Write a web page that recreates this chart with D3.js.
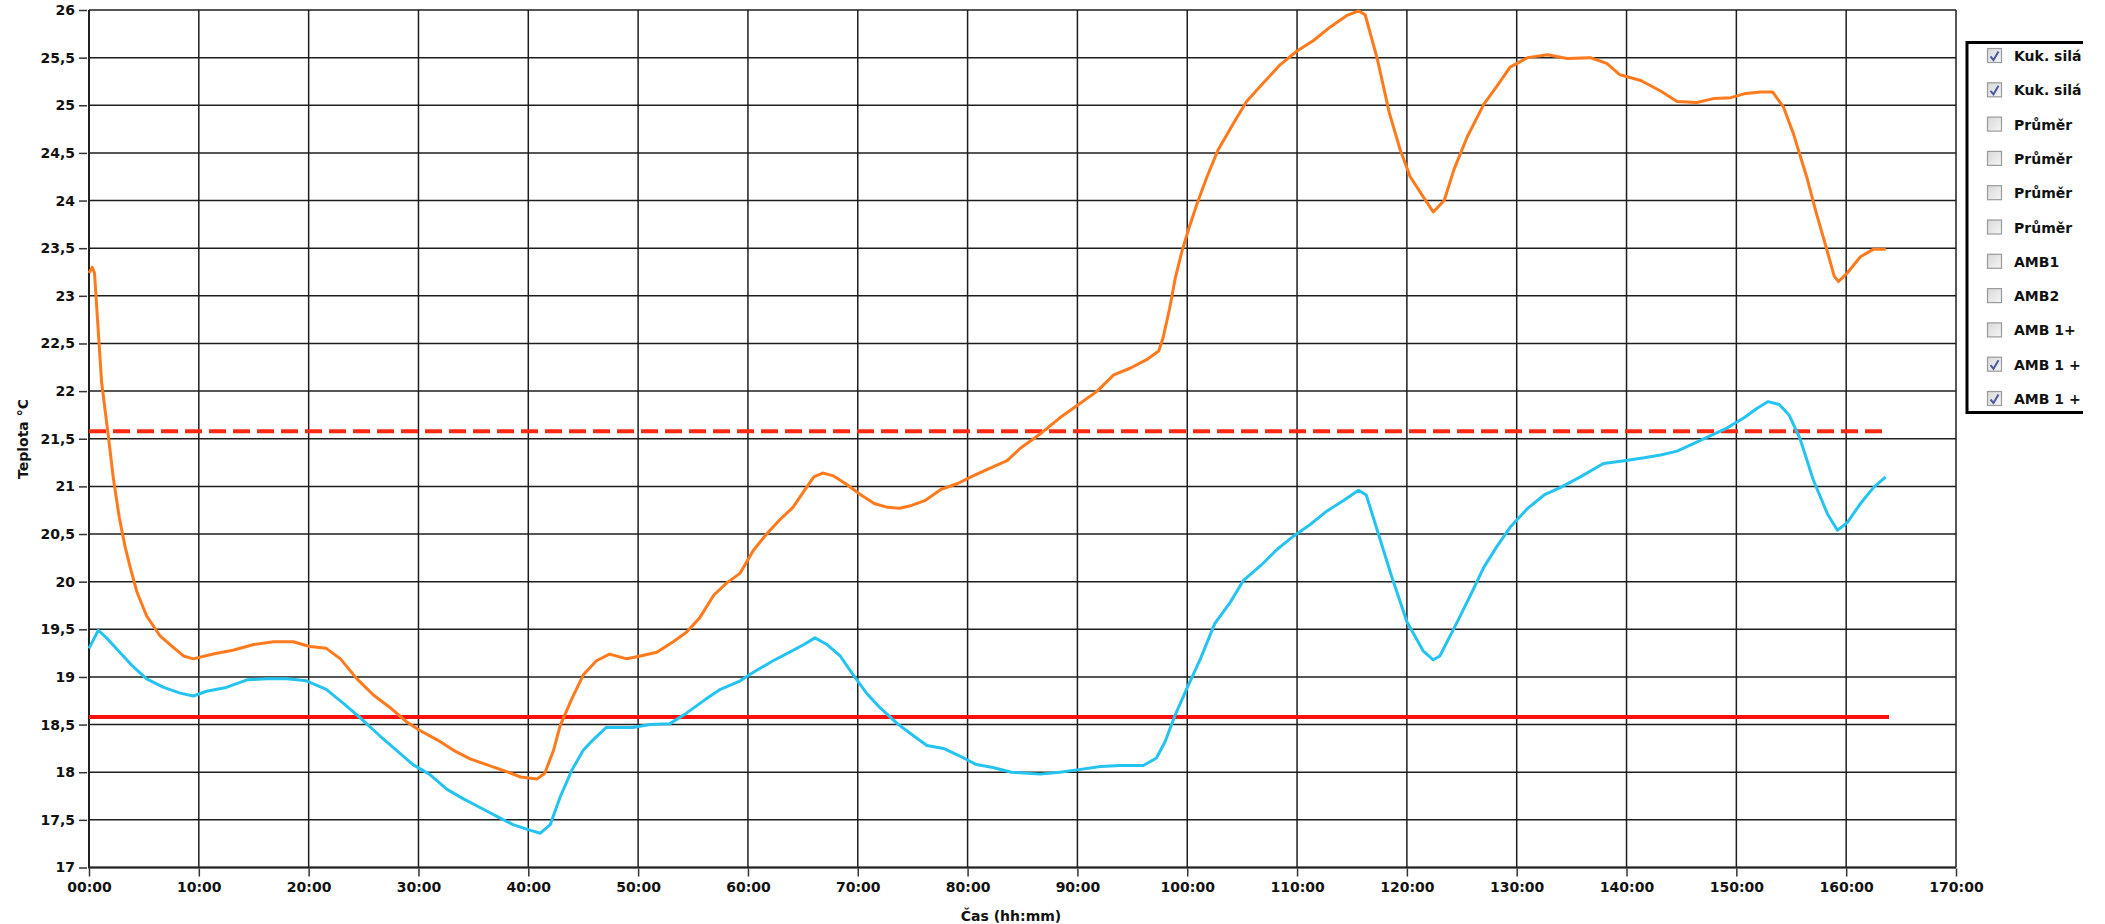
<!DOCTYPE html>
<html>
<head>
<meta charset="utf-8">
<script src="https://cdn.jsdelivr.net/npm/d3@7"></script>
<style>
  html, body { margin: 0; padding: 0; background: #fff; overflow: hidden; }
  svg { display: block; }
  text { font-family: "DejaVu Sans", Verdana, sans-serif; font-weight: bold; fill: #111; }
</style>
</head>
<body>
<script>
// ---------- data ----------
const orangeHours = [0.0,0.3,0.5,1.15,1.76,2.2,2.76,3.28,3.73,4.34,5.25,6.47,7.38,8.6,9.5,11.3,13.1,15.0,16.8,18.6,20.1,21.6,22.9,24.4,25.9,27.4,28.9,30.1,31.7,33.2,34.7,36.2,37.7,39.3,40.8,41.5,42.3,42.9,43.96,45.0,46.2,47.4,48.97,50.2,51.7,53.2,54.4,55.6,56.9,58.1,59.3,60.5,61.7,62.9,64.1,65.1,66.0,66.8,67.8,69.0,70.3,71.5,72.7,73.8,74.9,76.1,77.6,79.1,80.5,82.0,83.6,84.8,86.6,88.4,90.1,91.8,93.3,94.8,96.3,97.4,97.8,98.4,98.9,99.5,100.1,100.9,101.8,102.8,104.2,105.4,106.9,108.5,110.0,111.5,113.0,114.5,115.6,116.2,117.3,118.4,119.4,120.3,121.6,122.4,123.4,124.3,125.5,127.0,128.2,129.4,131.0,132.8,134.6,136.7,138.2,139.4,141.3,143.1,144.6,146.4,147.9,149.5,150.7,152.2,153.3,154.3,155.2,156.4,157.3,158.3,158.9,159.3,160.1,161.3,162.5,163.6];
const orangeTemps = [23.24,23.30,23.24,22.09,21.53,21.10,20.67,20.37,20.16,19.90,19.64,19.43,19.34,19.22,19.19,19.24,19.28,19.34,19.37,19.37,19.32,19.30,19.19,18.98,18.81,18.68,18.53,18.44,18.34,18.23,18.14,18.08,18.02,17.95,17.93,17.99,18.23,18.49,18.77,19.02,19.17,19.24,19.19,19.22,19.26,19.37,19.47,19.62,19.86,19.99,20.09,20.33,20.50,20.65,20.78,20.95,21.10,21.14,21.11,21.02,20.91,20.82,20.78,20.77,20.80,20.85,20.97,21.03,21.11,21.19,21.27,21.40,21.55,21.72,21.86,22.00,22.17,22.24,22.33,22.42,22.56,22.87,23.18,23.46,23.69,23.97,24.25,24.53,24.81,25.04,25.23,25.43,25.57,25.68,25.82,25.94,25.99,25.95,25.49,24.92,24.53,24.25,24.02,23.88,24.00,24.33,24.67,25.01,25.20,25.40,25.50,25.53,25.49,25.50,25.44,25.32,25.26,25.15,25.04,25.03,25.07,25.08,25.12,25.14,25.14,24.98,24.70,24.25,23.86,23.46,23.21,23.15,23.24,23.41,23.49,23.49];

const cyanHours = [0.0,0.85,1.6,2.8,4.0,5.25,6.8,8.3,9.5,10.7,12.5,14.4,16.2,18.0,19.8,21.6,23.2,24.7,26.5,28.0,29.5,31.1,32.6,34.1,35.6,37.1,38.6,40.2,41.1,42.0,42.9,43.96,45.0,45.9,47.1,48.4,49.5,51.1,52.9,54.4,56.2,57.5,59.3,60.5,62.3,63.8,65.1,66.1,67.2,68.4,69.6,70.8,72.0,73.6,75.1,76.3,77.8,79.3,80.8,82.3,84.0,86.6,88.4,90.3,92.1,93.9,96.0,97.2,97.98,98.9,99.97,101.2,102.5,103.9,105.1,106.7,108.2,109.7,111.2,112.7,114.2,115.6,116.3,117.6,118.6,120.0,121.5,122.4,123.0,124.6,125.8,127.0,128.2,129.4,131.0,132.5,134.0,135.8,137.9,139.8,141.6,143.1,144.6,146.1,147.6,149.1,150.7,151.9,152.9,153.9,154.8,155.8,157.0,158.3,159.2,160.1,161.3,162.5,163.6];
const cyanTemps = [19.30,19.49,19.41,19.26,19.11,18.98,18.89,18.83,18.80,18.85,18.89,18.97,18.98,18.98,18.96,18.87,18.72,18.57,18.38,18.23,18.08,17.97,17.82,17.72,17.63,17.54,17.45,17.39,17.36,17.45,17.74,18.02,18.23,18.34,18.47,18.47,18.47,18.50,18.51,18.62,18.77,18.87,18.96,19.05,19.17,19.26,19.34,19.41,19.34,19.22,19.02,18.83,18.68,18.51,18.38,18.28,18.25,18.17,18.08,18.05,18.00,17.98,18.00,18.03,18.06,18.07,18.07,18.15,18.32,18.60,18.88,19.19,19.56,19.78,20.01,20.17,20.34,20.48,20.60,20.74,20.85,20.96,20.91,20.43,20.06,19.58,19.27,19.18,19.22,19.58,19.86,20.15,20.37,20.57,20.77,20.91,20.99,21.10,21.24,21.27,21.30,21.33,21.37,21.45,21.53,21.61,21.72,21.82,21.89,21.86,21.75,21.50,21.07,20.71,20.54,20.62,20.82,20.99,21.10];

const limitLow = 18.58;
const limitHigh = 21.58;
const limitEndHour = 163.9;

const xTickValues = [0,10,20,30,40,50,60,70,80,90,100,110,120,130,140,150,160,170];
const xTickLabels = ["00:00","10:00","20:00","30:00","40:00","50:00","60:00","70:00","80:00","90:00","100:00","110:00","120:00","130:00","140:00","150:00","160:00","170:00"];
const yTickValues = [17,17.5,18,18.5,19,19.5,20,20.5,21,21.5,22,22.5,23,23.5,24,24.5,25,25.5,26];
const yTickLabels = ["17","17,5","18","18,5","19","19,5","20","20,5","21","21,5","22","22,5","23","23,5","24","24,5","25","25,5","26"];

// legend labels as visible in the (truncated) legend panel
const legendLabels = ["Kuk. silá","Kuk. silá","Průměr","Průměr","Průměr","Průměr","AMB1","AMB2","AMB 1+","AMB 1 +","AMB 1 +"];
const legendChecked = [true,true,false,false,false,false,false,false,false,true,true];

const xLabel = "Čas (hh:mm)";
const yLabel = "Teplota °C";

// ---------- drawing ----------
const W = 2105, H = 924;
const svg = d3.select("body").append("svg").attr("width", W).attr("height", H);

const x = d3.scaleLinear().domain([0,170]).range([89,1956]);
const y = d3.scaleLinear().domain([17,26]).range([867.5,10]);

// grid
const grid = svg.append("g");
grid.selectAll("line.v").data(xTickValues).join("line")
  .attr("x1", d => x(d)).attr("x2", d => x(d))
  .attr("y1", y(26)).attr("y2", y(17))
  .attr("stroke", "#1e1e1e").attr("stroke-width", 1.5);
grid.selectAll("line.h").data(yTickValues).join("line")
  .attr("x1", x(0)).attr("x2", x(170))
  .attr("y1", d => y(d)).attr("y2", d => y(d))
  .attr("stroke", "#1e1e1e").attr("stroke-width", 1.5);

// axes
const xAxis = d3.axisBottom(x).tickValues(xTickValues)
  .tickFormat((d,i) => xTickLabels[i]).tickSize(8).tickPadding(6);
const gx = svg.append("g").attr("transform", `translate(0,${y(17)+1})`).call(xAxis);
gx.select(".domain").remove();
gx.selectAll("line").attr("stroke","#333").attr("stroke-width",1.5);
gx.selectAll("text").style("font-size","14px").attr("fill","#111");

const yAxis = d3.axisLeft(y).tickValues(yTickValues)
  .tickFormat((d,i) => yTickLabels[i]).tickSize(8).tickPadding(4);
const gy = svg.append("g").attr("transform", `translate(${x(0)-2},0)`).call(yAxis);
gy.select(".domain").remove();
gy.selectAll("line").attr("stroke","#333").attr("stroke-width",1.5);
gy.selectAll("text").style("font-size","14px").attr("fill","#111");

// frame lines (left & bottom heavier)
svg.append("line").attr("x1",x(0)).attr("x2",x(0)).attr("y1",y(26)).attr("y2",y(17)+1)
  .attr("stroke","#222").attr("stroke-width",2);
svg.append("line").attr("x1",x(0)).attr("x2",x(170)).attr("y1",y(17)).attr("y2",y(17))
  .attr("stroke","#222").attr("stroke-width",2);

// axis titles
svg.append("text").attr("x", 1011).attr("y", 921).attr("text-anchor","middle")
  .style("font-size","14px").text(xLabel);
svg.append("text").attr("transform","translate(28,439) rotate(-90)").attr("text-anchor","middle")
  .style("font-size","14px").text(yLabel);

// limit lines
svg.append("line").attr("x1",x(0)).attr("x2",x(limitEndHour))
  .attr("y1",y(limitHigh)).attr("y2",y(limitHigh))
  .attr("stroke","#ff2a10").attr("stroke-width",4).attr("stroke-dasharray","17,7");
svg.append("line").attr("x1",x(0)).attr("x2",x(limitEndHour))
  .attr("y1",y(limitLow)).attr("y2",y(limitLow))
  .attr("stroke","#ff1010").attr("stroke-width",4);

// series
const line = d3.line().x(d => x(d[0])).y(d => y(d[1]));
svg.append("path").datum(cyanHours.map((h,i)=>[h,cyanTemps[i]]))
  .attr("d", line).attr("fill","none").attr("stroke","#25c3f0").attr("stroke-width",3)
  .attr("stroke-linejoin","round");
svg.append("path").datum(orangeHours.map((h,i)=>[h,orangeTemps[i]]))
  .attr("d", line).attr("fill","none").attr("stroke","#ff7a1c").attr("stroke-width",3)
  .attr("stroke-linejoin","round");

// legend
const defs = svg.append("defs");
defs.append("clipPath").attr("id","legclip").append("rect")
  .attr("x",1950).attr("y",0).attr("width",133).attr("height",H);
const grad = defs.append("linearGradient").attr("id","cbgrad").attr("x1",0).attr("y1",0).attr("x2",1).attr("y2",1);
grad.append("stop").attr("offset","0%").attr("stop-color","#d8d8d8");
grad.append("stop").attr("offset","100%").attr("stop-color","#f6f6f6");

const leg = svg.append("g").attr("clip-path","url(#legclip)");
leg.append("rect").attr("x",1967).attr("y",42.5).attr("width",200).attr("height",370)
  .attr("fill","#fff").attr("stroke","#000").attr("stroke-width",3);
const rowY = i => 56 + i*34.3;
const items = svg.append("g").selectAll("g.item").data(legendLabels).join("g")
  .attr("transform",(d,i)=>`translate(0,${rowY(i)})`);
items.append("rect").attr("x",1987.5).attr("y",-7.5).attr("width",14).attr("height",14)
  .attr("fill","url(#cbgrad)").attr("stroke","#9a9a9a").attr("stroke-width",1.2);
items.filter((d,i)=>legendChecked[i]).append("path")
  .attr("d","M1990.5,0.5 L1993.5,4 L1998.5,-4.5")
  .attr("fill","none").attr("stroke","#4b5a9c").attr("stroke-width",2);
items.append("text").attr("x",2014).attr("y",5).style("font-size","14px").text(d=>d);
</script>
</body>
</html>
